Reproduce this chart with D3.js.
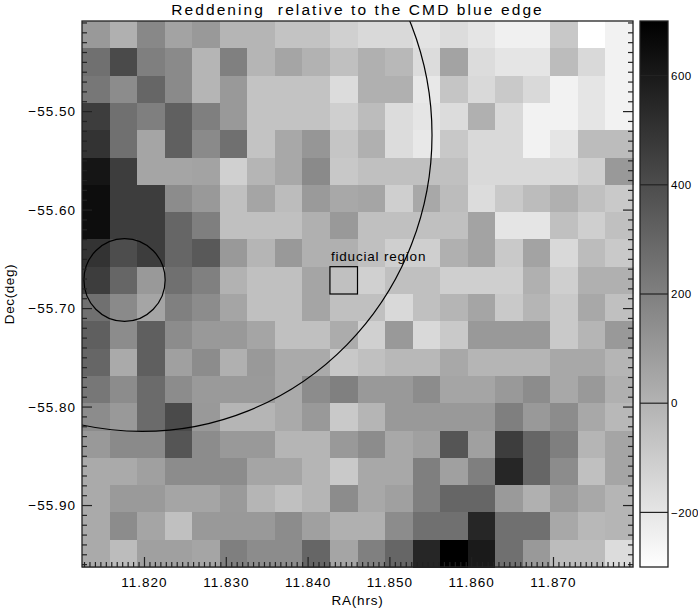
<!DOCTYPE html>
<html>
<head>
<meta charset="utf-8">
<script src="https://cdn.jsdelivr.net/npm/d3@7"></script>
<style>
  html, body { margin: 0; padding: 0; background: #fff; }
  svg { display: block; }
  text { font-family: "Liberation Sans", Arial, Helvetica, sans-serif; fill: #000; }
</style>
</head>
<body>
<svg id="chart" width="698" height="610"></svg>
<script>
// ---------------- DATA ----------------
const titleText = "Reddening  relative to the CMD blue edge";
const xTitle = "RA(hrs)";
const yTitle = "Dec(deg)";

// RA (hours) and Dec (deg) extent of the 20 x 20 grid
const raRange = [11.81236, 11.87972];
const decRange = [-55.408, -55.9624];

// reddening values, rows from top (north) to bottom, columns from low RA to high RA
const reddening = [
  [100, 10, 167, 61, 100, -10, -10, -65, -65, -116, -151, -151, -190, -163, -198, -241, -241, -84, -300, -249],
  [261, 410, 202, 159, -10, 198, -10, 53, 2, -53, 10, -22, -163, 61, -163, -198, -198, -37, -151, -249],
  [233, 151, 300, 159, -10, 100, -65, -65, -65, -163, 10, 10, -210, -73, -151, -88, -151, -249, -198, -249],
  [461, 261, 202, 324, 202, 100, -65, -65, -65, -112, -37, -163, -198, -163, 10, -151, -249, -249, -198, -249],
  [500, 261, 53, 324, 159, 261, -65, 41, 112, -73, 10, -163, -210, -84, -151, -151, -249, -198, -37, -37],
  [618, 461, 53, 53, 61, -116, -10, 41, 159, -84, -53, -53, -53, -53, -151, -151, -151, -151, -112, 100],
  [649, 461, 461, 151, 100, -53, 53, -37, 96, 41, 53, -112, 41, -37, -163, -88, -37, 10, -53, -88],
  [649, 461, 461, 300, 202, -53, -53, -53, 10, 100, -53, -53, -53, -53, 61, -198, -198, -53, -112, -53],
  [500, 398, 461, 300, 351, 100, -10, 100, 10, 10, -53, -112, -112, 10, 61, -88, 61, -151, -37, -88],
  [461, 300, 100, 261, 198, 2, -53, -53, 53, -53, -116, -53, -53, -112, -112, -112, 10, -112, 10, 10],
  [261, 159, 53, 198, 151, 53, -53, -53, 53, -53, -53, -151, -53, -10, 53, -88, -10, -88, 41, -53],
  [327, 151, 327, 151, 100, 100, 53, -53, -53, 25, -116, 100, -151, -88, 100, 100, 100, -88, -10, 100],
  [300, 33, 327, 73, 151, 10, 100, 33, 33, -84, -53, -22, -22, 41, -10, -10, -10, 41, 41, -10],
  [233, 151, 280, 151, 96, 96, 96, 33, 151, 198, 100, 100, 151, 53, 53, 100, 151, 41, 100, 10],
  [151, 100, 280, 410, 100, -10, -10, 33, 100, -88, -10, 100, 100, 100, 100, 202, 100, 151, 41, -22],
  [100, 159, 159, 367, 151, 100, 100, -10, -10, 100, 151, 41, 73, 367, 73, 461, 300, 202, -10, 53],
  [33, 33, 73, 151, 151, 151, 53, 53, -10, -88, 41, 41, 202, 73, 202, 551, 300, 151, -53, 53],
  [33, 96, 96, 53, 53, 96, -10, -53, -10, 151, 41, 73, 202, 300, 300, 96, 10, 96, 41, -10],
  [33, 151, 53, -53, 100, 100, 100, 151, 73, 10, 10, 151, 261, 261, 551, 261, 261, 41, -22, -10],
  [33, -37, 73, 73, 53, 202, 151, 151, 300, 53, 198, 300, 551, 700, 598, 261, 100, -37, -37, -163]
];

// colour scale extent and colour bar ticks
const colorRange = [-300, 700];
const cbTicks = [-200, 0, 200, 400, 600];
const cbTickLabels = ["\u2212200", "0", "200", "400", "600"];

// axis ticks
const xTicks = [11.82, 11.83, 11.84, 11.85, 11.86, 11.87];
const xTickLabels = ["11.820", "11.830", "11.840", "11.850", "11.860", "11.870"];
const xMinorPerMajor = 15;
const yTicks = [-55.5, -55.6, -55.7, -55.8, -55.9];
const yTickLabels = ["\u221255.50", "\u221255.60", "\u221255.70", "\u221255.80", "\u221255.90"];
const yMinorPerMajor = 10;

// overlays
const bigCircle = { ra: 11.8197, dec: -55.5237, r: 0.301 };
const smallCircle = { ra: 11.81756, dec: -55.6710, r: 0.042 };
const fiducialCell = { col: 9, row: 9 };
const fiducialLabel = "fiducial region";

// ---------------- LAYOUT ----------------
const plot = { left: 82, right: 633, top: 21, bottom: 567 };
const cbar = { left: 640, right: 668, top: 21, bottom: 567 };

const svg = d3.select("#chart");
svg.append("rect").attr("width", 698).attr("height", 610).attr("fill", "#fff");

const x = d3.scaleLinear().domain(raRange).range([plot.left, plot.right]);
const y = d3.scaleLinear().domain(decRange).range([plot.top, plot.bottom]);
const color = d3.scaleLinear().domain(colorRange).range(["#ffffff", "#000000"]).clamp(true);

const nRows = reddening.length, nCols = reddening[0].length;
const raStep = (raRange[1] - raRange[0]) / nCols;
const decStep = (decRange[1] - decRange[0]) / nRows;

const defs = svg.append("defs");
defs.append("clipPath").attr("id", "plotclip")
  .append("rect")
  .attr("x", plot.left).attr("y", plot.top)
  .attr("width", plot.right - plot.left).attr("height", plot.bottom - plot.top);

// cells
const cells = [];
reddening.forEach((row, r) => row.forEach((v, c) => cells.push({ r, c, v })));
svg.append("g").attr("shape-rendering", "crispEdges")
  .selectAll("rect").data(cells).join("rect")
  .attr("x", d => x(raRange[0] + d.c * raStep))
  .attr("y", d => y(decRange[0] + d.r * decStep))
  .attr("width", d => x(raRange[0] + (d.c + 1) * raStep) - x(raRange[0] + d.c * raStep) + 0.5)
  .attr("height", d => y(decRange[0] + (d.r + 1) * decStep) - y(decRange[0] + d.r * decStep) + 0.5)
  .attr("fill", d => color(d.v));

// overlays (clipped)
const ov = svg.append("g").attr("clip-path", "url(#plotclip)");
function drawCircle(cfg) {
  const cosd = Math.cos(cfg.dec * Math.PI / 180);
  const cx = x(cfg.ra), cy = y(cfg.dec);
  const rx = Math.abs(x(cfg.ra + cfg.r / (15 * cosd)) - cx);
  const ry = Math.abs(y(cfg.dec - cfg.r) - cy);
  ov.append("ellipse").attr("cx", cx).attr("cy", cy).attr("rx", rx).attr("ry", ry)
    .attr("fill", "none").attr("stroke", "#000").attr("stroke-width", 1.2);
}
drawCircle(bigCircle);
drawCircle(smallCircle);

const fx0 = x(raRange[0] + fiducialCell.col * raStep), fx1 = x(raRange[0] + (fiducialCell.col + 1) * raStep);
const fy0 = y(decRange[0] + fiducialCell.row * decStep), fy1 = y(decRange[0] + (fiducialCell.row + 1) * decStep);
ov.append("rect").attr("x", fx0).attr("y", fy0).attr("width", fx1 - fx0).attr("height", fy1 - fy0)
  .attr("fill", "none").attr("stroke", "#000").attr("stroke-width", 1.2);
svg.append("text").attr("x", fx0 + 1).attr("y", fy0 - 6)
  .attr("font-size", 13.5).attr("letter-spacing", 0.8).text(fiducialLabel);

// frame
svg.append("rect").attr("x", plot.left).attr("y", plot.top)
  .attr("width", plot.right - plot.left).attr("height", plot.bottom - plot.top)
  .attr("fill", "none").attr("stroke", "#222").attr("stroke-width", 1.3);

// ticks
const tk = svg.append("g").attr("stroke", "#222").attr("stroke-width", 1.2);
const xMinorStep = (xTicks[1] - xTicks[0]) / xMinorPerMajor;
const xMinors = [];
for (let k = -30; k <= 200; k++) {
  const v = xTicks[0] + k * xMinorStep;
  if (v < raRange[0] || v > raRange[1]) continue;
  if (Math.abs(k % xMinorPerMajor) === 0) continue;
  xMinors.push(v);
}
tk.selectAll(".xmin").data(xMinors).join("line")
  .attr("x1", d => x(d)).attr("x2", d => x(d)).attr("y1", plot.bottom).attr("y2", plot.bottom - 5);
tk.selectAll(".xmaj").data(xTicks).join("line")
  .attr("x1", d => x(d)).attr("x2", d => x(d)).attr("y1", plot.bottom).attr("y2", plot.bottom - 10);

const yMinorStep = (yTicks[1] - yTicks[0]) / yMinorPerMajor;
const yMinors = [];
for (let k = -30; k <= 80; k++) {
  const v = yTicks[0] + k * yMinorStep;
  if (v > decRange[0] || v < decRange[1]) continue;
  if (Math.abs(k % yMinorPerMajor) === 0) continue;
  yMinors.push(v);
}
[plot.left, plot.right].forEach(px => {
  const dir = px === plot.left ? 1 : -1;
  tk.append("g").selectAll("line").data(yMinors).join("line")
    .attr("x1", px).attr("x2", px + dir * 5).attr("y1", d => y(d)).attr("y2", d => y(d));
  tk.append("g").selectAll("line").data(yTicks).join("line")
    .attr("x1", px).attr("x2", px + dir * 10).attr("y1", d => y(d)).attr("y2", d => y(d));
});

// tick labels
svg.append("g").selectAll("text").data(xTicks).join("text")
  .attr("x", d => x(d)).attr("y", 587).attr("text-anchor", "middle")
  .attr("font-size", 13.5).attr("letter-spacing", 1)
  .text((d, i) => xTickLabels[i]);
svg.append("g").selectAll("text").data(yTicks).join("text")
  .attr("x", 76).attr("y", d => y(d)).attr("dy", "0.36em").attr("text-anchor", "end")
  .attr("font-size", 13.5).attr("letter-spacing", 1)
  .text((d, i) => yTickLabels[i]);

// axis titles and title
svg.append("text").attr("x", (plot.left + plot.right) / 2).attr("y", 605)
  .attr("text-anchor", "middle").attr("font-size", 13.5).attr("letter-spacing", 0.8).text(xTitle);
svg.append("text").attr("transform", `translate(13.5,${(plot.top + plot.bottom) / 2}) rotate(-90)`)
  .attr("text-anchor", "middle").attr("font-size", 13.5).attr("letter-spacing", 0.6).text(yTitle);
svg.append("text").attr("x", (plot.left + plot.right) / 2).attr("y", 15)
  .attr("text-anchor", "middle").attr("font-size", 15.5).attr("letter-spacing", 2.1)
  .style("white-space", "pre").attr("xml:space", "preserve").text(titleText);

// colour bar
const cy = d3.scaleLinear().domain(colorRange).range([cbar.bottom, cbar.top]);
const grad = defs.append("linearGradient").attr("id", "cbgrad")
  .attr("x1", 0).attr("y1", 1).attr("x2", 0).attr("y2", 0);
grad.append("stop").attr("offset", 0).attr("stop-color", color(colorRange[0]));
grad.append("stop").attr("offset", 1).attr("stop-color", color(colorRange[1]));
svg.append("rect").attr("x", cbar.left).attr("y", cbar.top)
  .attr("width", cbar.right - cbar.left).attr("height", cbar.bottom - cbar.top)
  .attr("fill", "url(#cbgrad)").attr("stroke", "#222").attr("stroke-width", 1.3);
svg.append("g").selectAll("line").data(cbTicks).join("line")
  .attr("x1", cbar.left).attr("x2", cbar.right).attr("y1", d => cy(d)).attr("y2", d => cy(d))
  .attr("stroke", "#222").attr("stroke-width", 1.2);
svg.append("g").selectAll("text").data(cbTicks).join("text")
  .attr("x", cbar.right + 3).attr("y", d => cy(d)).attr("dy", "0.36em")
  .attr("font-size", 11.5).attr("letter-spacing", 0.5)
  .text((d, i) => cbTickLabels[i]);
</script>
</body>
</html>
